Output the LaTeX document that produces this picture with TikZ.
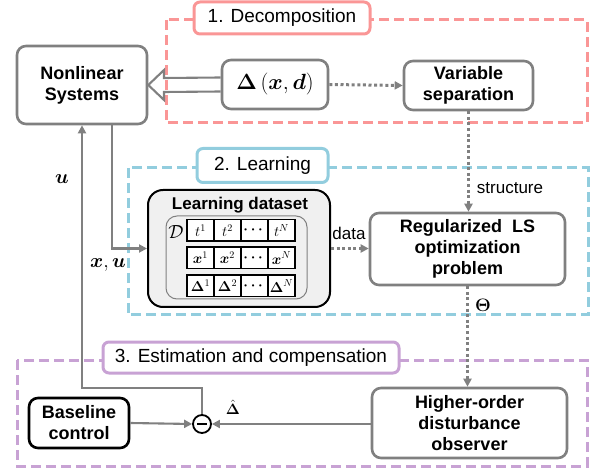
\documentclass[tikz,border=0pt]{standalone}
\usepackage{fix-cm}
\usepackage{amsmath,bm}
\usepackage[no-math]{fontspec}
\setmainfont{Liberation Sans}
\usetikzlibrary{arrows.meta,calc}
\definecolor{lgray}{RGB}{128,128,128}
\definecolor{pinkc}{RGB}{250,150,150}
\definecolor{bluec}{RGB}{146,205,222}
\definecolor{purpc}{RGB}{200,162,212}
\definecolor{dsfill}{RGB}{240,240,240}
\tikzset{
  gbox/.style={draw=lgray, line width=2.6pt, rounded corners=9pt, fill=white, align=center,
    font=\fontsize{18}{21}\selectfont\bfseries, inner sep=0pt},
  bbox/.style={draw=black, line width=2.6pt, rounded corners=9pt, fill=white, align=center,
    font=\fontsize{18}{21}\selectfont\bfseries, inner sep=0pt},
  grpframe/.style={line width=3pt, dash pattern=on 10pt off 5pt},
  grplabel/.style={line width=3pt, rounded corners=6pt, fill=white, inner sep=0pt,
    font=\fontsize{19}{22}\selectfont},
  conn/.style={draw=lgray, line width=2.1pt, -{Triangle[length=8pt,width=8pt]}},
  dotconn/.style={draw=lgray, line width=3pt, dash pattern=on 3pt off 2.6pt,
    -{Triangle[length=8pt,width=8pt]}},
  cellbox/.style={draw=black, line width=1.5pt, fill=white, minimum width=27pt,
    minimum height=21.5pt, inner sep=0pt, font=\fontsize{14.5}{16}\selectfont},
  lbl/.style={font=\fontsize{17}{19}\selectfont, inner sep=0pt},
  mlbl/.style={font=\fontsize{20}{22}\selectfont, inner sep=0pt}
}
\begin{document}
\begin{tikzpicture}[x=1pt,y=-1pt]
\useasboundingbox (0,0) rectangle (597,470);
% group frames
\draw[grpframe, draw=pinkc] (166,20) rectangle (587,123);
\draw[grpframe, draw=bluec] (128,168) rectangle (588,315);
\draw[grpframe, draw=purpc] (17,360) rectangle (587,466);
\node[grplabel, draw=pinkc, minimum width=176pt, minimum height=32pt] (g1) at (282,18) {1. Decomposition};
\node[grplabel, draw=bluec, minimum width=131pt, minimum height=34pt] (g2) at (262.5,165.5) {2. Learning};
\node[grplabel, draw=purpc, minimum width=296pt, minimum height=31pt] (g3) at (251,357.5) {3. Estimation and compensation};
% main nodes
\node[gbox, minimum width=130pt, minimum height=78pt] (nl) at (82,85) {Nonlinear\\Systems};
\node[gbox, minimum width=106pt, minimum height=49pt, font=\fontsize{22}{24}\selectfont] (dl) at (275,84.5) {$\bm{\Delta}\left(\bm{x},\bm{d}\right)$};
\node[gbox, minimum width=129pt, minimum height=49pt] (vs) at (468.5,85.5) {Variable\\separation};
\node[gbox, minimum width=195pt, minimum height=72pt] (reg) at (467.5,249) {Regularized\ \ LS\\optimization\\problem};
\node[gbox, minimum width=195pt, minimum height=70pt] (ho) at (469.5,423) {Higher-order\\disturbance\\observer};
\node[bbox, minimum width=100pt, minimum height=50pt] (bc) at (79,423) {Baseline\\control};
\node[draw=black, line width=1.8pt, circle, minimum size=18pt, inner sep=0pt, fill=white] (sum) at (202,424) {};
\draw[line width=1.8pt] ($(sum.center)+(-5,0)$) -- ($(sum.center)+(5,0)$);
% learning dataset
\node[draw=black, line width=2pt, fill=dsfill, rounded corners=15pt, minimum width=182pt, minimum height=117pt, inner sep=0pt] (ds) at (239,248.5) {};
\node[font=\fontsize{17}{19}\selectfont\bfseries, inner sep=0pt] (dst) at (240,205) {Learning dataset};
\node[draw=lgray, line width=1pt, rounded corners=11pt, minimum width=141pt, minimum height=83pt, inner sep=0pt] (dsin) at (236.5,257.5) {};
\node[font=\fontsize{19}{21}\selectfont, inner sep=0pt] (dD) at (176,232) {$\mathcal{D}$};
\foreach \t [count=\i] in {$t^{1}$,$t^{2}$,$\bm{\cdots}$,$t^{N}$}
  \node[cellbox] (ra\i) at ({187+27*(\i-0.5)},230.5) {\t};
\foreach \t [count=\i] in {$\bm{x}^{1}$,$\bm{x}^{2}$,$\bm{\cdots}$,$\bm{x}^{N}$}
  \node[cellbox] (rb\i) at ({187+27*(\i-0.5)},258) {\t};
\foreach \t [count=\i] in {$\bm{\Delta}^{1}$,$\bm{\Delta}^{2}$,$\bm{\cdots}$,$\bm{\Delta}^{N}$}
  \node[cellbox] (rc\i) at ({187+27*(\i-0.5)},286) {\t};
% hollow arrow
\coordinate (hb) at (164,85);
\draw[draw=lgray, line width=2.1pt, line join=miter]
  ($(dl.west)+(0,-7)$) -- ($(hb)+(0,-7)$) -- ($(hb)+(0,-15)$) -- (nl.east)
  -- ($(hb)+(0,15)$) -- ($(hb)+(0,7)$) -- ($(dl.west)+(0,7)$);
% connectors
\draw[dotconn] (dl.east) -- (vs.west);
\draw[dotconn] (vs.south) -- (vs.south |- reg.north);
\draw[dotconn] (ds.east) -- (ds.east -| reg.west);
\draw[dotconn] (reg.south) -- (reg.south |- ho.north);
\coordinate (xu) at (112,0);
\draw[conn] (xu |- nl.south) |- (ds.west);
\coordinate (turn) at (82,388);
\draw[conn] (sum.north) |- (turn) -- (nl.south);
\draw[conn] (bc.east) -- (sum.west);
\draw[conn] (ho.west |- sum.east) -- (sum.east);
% labels
\node[lbl] (lstr) at (510,188) {structure};
\node[lbl] (ldata) at (349,233) {data};
\node[mlbl, font=\fontsize{18}{20}\selectfont] (ltheta) at (483,305) {$\bm{\Theta}$};
\node[mlbl, font=\fontsize{15}{17}\selectfont] (ldh) at (233,407) {$\hat{\bm{\Delta}}$};
\node[mlbl] (lu) at (62,179) {$\bm{u}$};
\node[mlbl] (lxu) at (108,265) {$\bm{x},\bm{u}$};
\end{tikzpicture}
\end{document}
